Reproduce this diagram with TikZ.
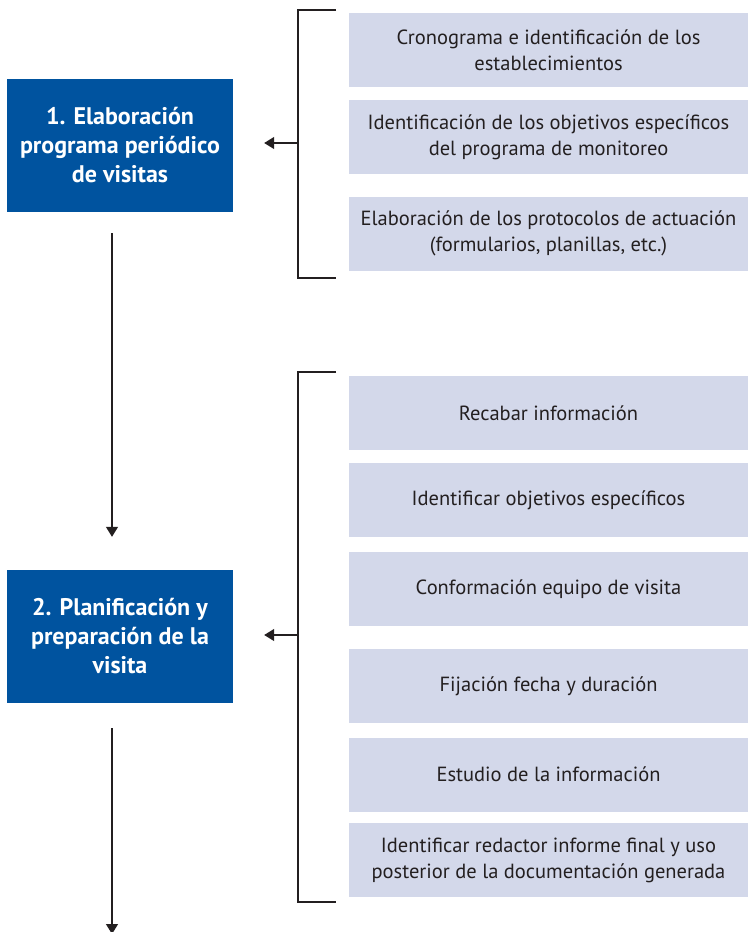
\documentclass[tikz,border=0pt]{standalone}
\usepackage{fontspec}
\setmainfont{PT Sans}
\usepackage{tikz}
\usetikzlibrary{arrows.meta}
\definecolor{azul}{RGB}{0,83,159}
\definecolor{celeste}{RGB}{211,216,234}
\definecolor{gris}{RGB}{35,31,32}

\begin{document}
\begin{tikzpicture}[
        x=1pt, y=-1pt,
        paso/.style={rectangle, fill=azul, text=white, minimum width=226pt, minimum height=133pt,
            inner sep=0pt, align=center, font=\fontsize{24}{29}\selectfont\bfseries},
        tarea/.style={rectangle, fill=celeste, text=gris, minimum width=399pt, minimum height=74pt,
            inner sep=0pt, align=center, font=\fontsize{20.5}{26}\selectfont},
        linea/.style={draw=gris, line width=1.3pt},
        flecha/.style={linea, -{Triangle[width=12pt,length=10pt]}}
        ]
        \useasboundingbox (0,0) rectangle (748,932);

        \node[paso] (paso1) at (120,145.5) {1. Elaboración\\programa periódico\\de visitas};
        \node[paso] (paso2) at (120,636.5) {2. Planificación y\\preparación de la\\visita};

        \node[tarea] (a1) at (548.5,50) {Cronograma e identificación de los\\establecimientos};
        \node[tarea] (a2) at (548.5,137) {Identificación de los objetivos específicos\\del programa de monitoreo};
        \node[tarea] (a3) at (548.5,233.5) {Elaboración de los protocolos de actuación\\(formularios, planillas, etc.)};

        \node[tarea] (b1) at (548.5,413) {Recabar información};
        \node[tarea] (b2) at (548.5,500) {Identificar objetivos específicos};
        \node[tarea] (b3) at (548.5,589) {Conformación equipo de visita};
        \node[tarea] (b4) at (548.5,686) {Fijación fecha y duración};
        \node[tarea] (b5) at (548.5,774.5) {Estudio de la información};
        \node[tarea] (b6) at (548.5,860) {Identificar redactor informe final y uso\\posterior de la documentación generada};

        \coordinate (llave1) at (298,143);
        \coordinate (llave2) at (298,635);
        \coordinate (fin) at (112,934);

        \draw[linea] (336,10) -- (298,10) -- (298,278) -- (336,278);
        \draw[linea] (336,372) -- (298,372) -- (298,902) -- (336,902);

        \draw[flecha, shorten >=31pt] (llave1) -- (llave1 -| paso1.east);
        \draw[flecha, shorten >=31pt] (llave2) -- (llave2 -| paso2.east);

        \draw[flecha, shorten <=21pt, shorten >=33pt] (paso1.south -| fin) -- (paso2.north -| fin);
        \draw[flecha, shorten <=25pt] (paso2.south -| fin) -- (fin);
    \end{tikzpicture}
\end{document}
